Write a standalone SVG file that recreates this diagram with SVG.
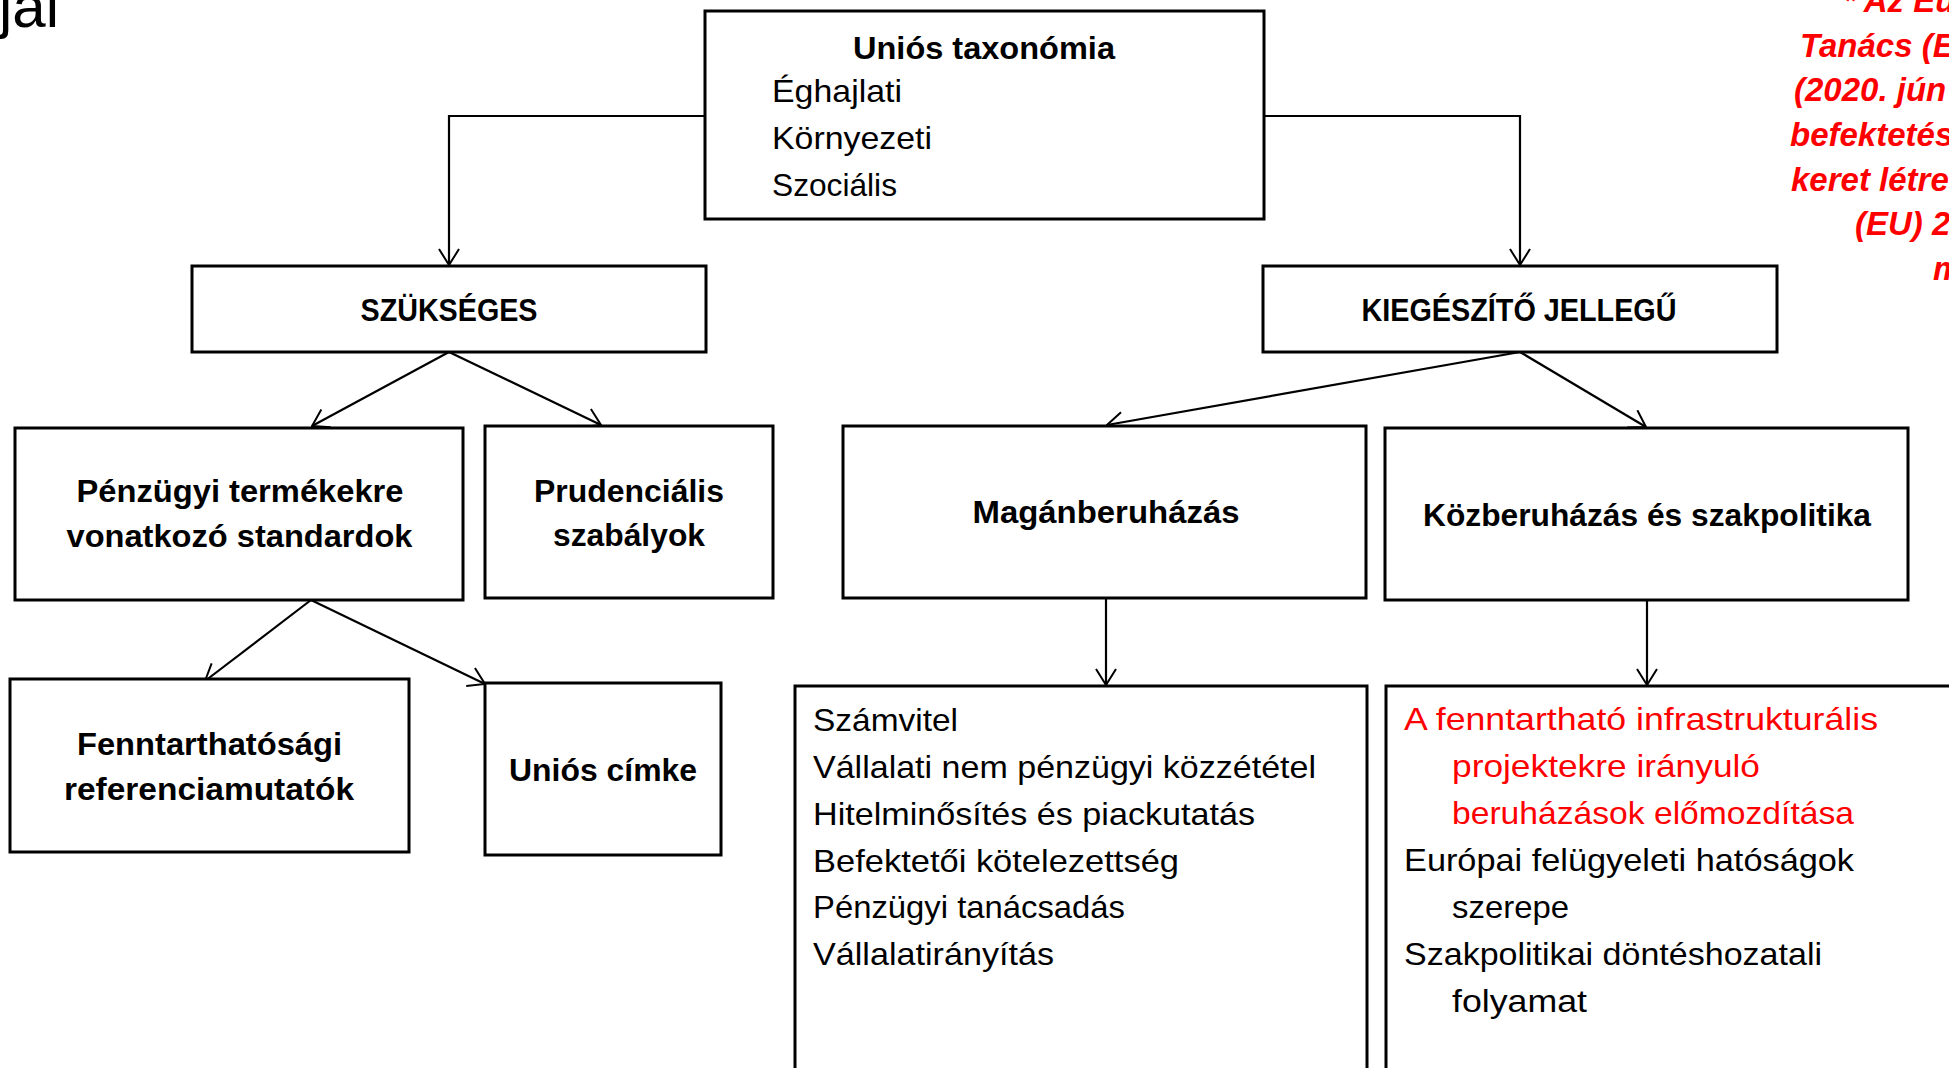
<svg xmlns="http://www.w3.org/2000/svg" width="1949" height="1068" viewBox="0 0 1949 1068">
<defs>
<style>
.box{fill:#fff;stroke:#000;stroke-width:3}
.con{fill:none;stroke:#000;stroke-width:2.2;marker-end:url(#arr)}
.t{font-family:"Liberation Sans",Arial,sans-serif;fill:#000}
.b{font-weight:bold;font-size:31px;text-anchor:middle}
.n{font-size:32px}
.red{fill:#ff0000}
.note{font-family:"Liberation Sans",Arial,sans-serif;font-weight:bold;font-style:italic;font-size:33px;fill:#ff0000}
</style>
<marker id="arr" markerUnits="userSpaceOnUse" viewBox="0 0 18 22" refX="17" refY="11" markerWidth="18" markerHeight="22" orient="auto">
<path d="M1,1 L17,11 L1,21" fill="none" stroke="#000" stroke-width="2"/>
</marker>
</defs>
<rect x="0" y="0" width="1949" height="1068" fill="#fff"/>

<g id="title">
<text class="t" x="-1" y="27" font-size="60">jai</text>
</g>

<g id="note">
<text class="note" x="1843" y="12">* Az Eur</text>
<text class="note" x="1800" y="57">Tanács (EU</text>
<text class="note" x="1794" y="101">(2020. jún</text>
<text class="note" x="1790" y="146">befektetés</text>
<text class="note" x="1791" y="191">keret létre</text>
<text class="note" x="1855" y="235">(EU) 20</text>
<text class="note" x="1933" y="280">m</text>
</g>

<g id="connectors">
<path class="con" d="M705,116 H449 V265"/>
<path class="con" d="M1264,116 H1520 V265"/>
<path class="con" d="M449,352 L312,426"/>
<path class="con" d="M449,352 L601,425"/>
<path class="con" d="M311,600 L205,681"/>
<path class="con" d="M311,600 L485,684"/>
<path class="con" d="M1520,352 L1107,425"/>
<path class="con" d="M1520,352 L1646,427"/>
<path class="con" d="M1106,598 V685"/>
<path class="con" d="M1647,600 V685"/>
</g>

<g id="node-taxonomia">
<rect class="box" x="705" y="11" width="559" height="208"/>
<text class="t b" x="984" y="59" textLength="262" lengthAdjust="spacingAndGlyphs">Uniós taxonómia</text>
<text class="t n" x="772" y="102" textLength="130" lengthAdjust="spacingAndGlyphs">Éghajlati</text>
<text class="t n" x="772" y="149" textLength="160" lengthAdjust="spacingAndGlyphs">Környezeti</text>
<text class="t n" x="772" y="196" textLength="125" lengthAdjust="spacingAndGlyphs">Szociális</text>
</g>

<g id="node-szukseges">
<rect class="box" x="192" y="266" width="514" height="86"/>
<text class="t b" x="449" y="321" textLength="177" lengthAdjust="spacingAndGlyphs">SZÜKSÉGES</text>
</g>

<g id="node-kiegeszito">
<rect class="box" x="1263" y="266" width="514" height="86"/>
<text class="t b" x="1519" y="321" textLength="315" lengthAdjust="spacingAndGlyphs">KIEGÉSZÍTŐ JELLEGŰ</text>
</g>

<g id="node-penzugyi">
<rect class="box" x="15" y="428" width="448" height="172"/>
<text class="t b" x="240" y="502" textLength="327" lengthAdjust="spacingAndGlyphs">Pénzügyi termékekre</text>
<text class="t b" x="239.5" y="547" textLength="346" lengthAdjust="spacingAndGlyphs">vonatkozó standardok</text>
</g>

<g id="node-prudencialis">
<rect class="box" x="485" y="426" width="288" height="172"/>
<text class="t b" x="629" y="502" textLength="190" lengthAdjust="spacingAndGlyphs">Prudenciális</text>
<text class="t b" x="629" y="546" textLength="152" lengthAdjust="spacingAndGlyphs">szabályok</text>
</g>

<g id="node-magan">
<rect class="box" x="843" y="426" width="523" height="172"/>
<text class="t b" x="1106" y="523" textLength="267" lengthAdjust="spacingAndGlyphs">Magánberuházás</text>
</g>

<g id="node-kozberuhazas">
<rect class="box" x="1385" y="428" width="523" height="172"/>
<text class="t b" x="1647" y="526" textLength="448" lengthAdjust="spacingAndGlyphs">Közberuházás és szakpolitika</text>
</g>

<g id="node-fenntarthatosagi">
<rect class="box" x="10" y="679" width="399" height="173"/>
<text class="t b" x="209.5" y="755" textLength="265" lengthAdjust="spacingAndGlyphs">Fenntarthatósági</text>
<text class="t b" x="209" y="800" textLength="290" lengthAdjust="spacingAndGlyphs">referenciamutatók</text>
</g>

<g id="node-cimke">
<rect class="box" x="485" y="683" width="236" height="172"/>
<text class="t b" x="603" y="781" textLength="188" lengthAdjust="spacingAndGlyphs">Uniós címke</text>
</g>

<g id="node-maganlista">
<rect class="box" x="795" y="686" width="572" height="420"/>
<text class="t n" x="813" y="731" textLength="145" lengthAdjust="spacingAndGlyphs">Számvitel</text>
<text class="t n" x="813" y="778" textLength="503" lengthAdjust="spacingAndGlyphs">Vállalati nem pénzügyi közzététel</text>
<text class="t n" x="813" y="825" textLength="442" lengthAdjust="spacingAndGlyphs">Hitelminősítés és piackutatás</text>
<text class="t n" x="813" y="872" textLength="366" lengthAdjust="spacingAndGlyphs">Befektetői kötelezettség</text>
<text class="t n" x="813" y="918" textLength="312" lengthAdjust="spacingAndGlyphs">Pénzügyi tanácsadás</text>
<text class="t n" x="813" y="965" textLength="241" lengthAdjust="spacingAndGlyphs">Vállalatirányítás</text>
</g>

<g id="node-kozlista">
<rect class="box" x="1386" y="686" width="620" height="420"/>
<text class="t n red" x="1404" y="730" textLength="474" lengthAdjust="spacingAndGlyphs">A fenntartható infrastrukturális</text>
<text class="t n red" x="1452" y="777" textLength="308" lengthAdjust="spacingAndGlyphs">projektekre irányuló</text>
<text class="t n red" x="1452" y="824" textLength="402" lengthAdjust="spacingAndGlyphs">beruházások előmozdítása</text>
<text class="t n" x="1404" y="871" textLength="450" lengthAdjust="spacingAndGlyphs">Európai felügyeleti hatóságok</text>
<text class="t n" x="1452" y="918" textLength="117" lengthAdjust="spacingAndGlyphs">szerepe</text>
<text class="t n" x="1404" y="965" textLength="418" lengthAdjust="spacingAndGlyphs">Szakpolitikai döntéshozatali</text>
<text class="t n" x="1452" y="1012" textLength="135" lengthAdjust="spacingAndGlyphs">folyamat</text>
</g>
</svg>
